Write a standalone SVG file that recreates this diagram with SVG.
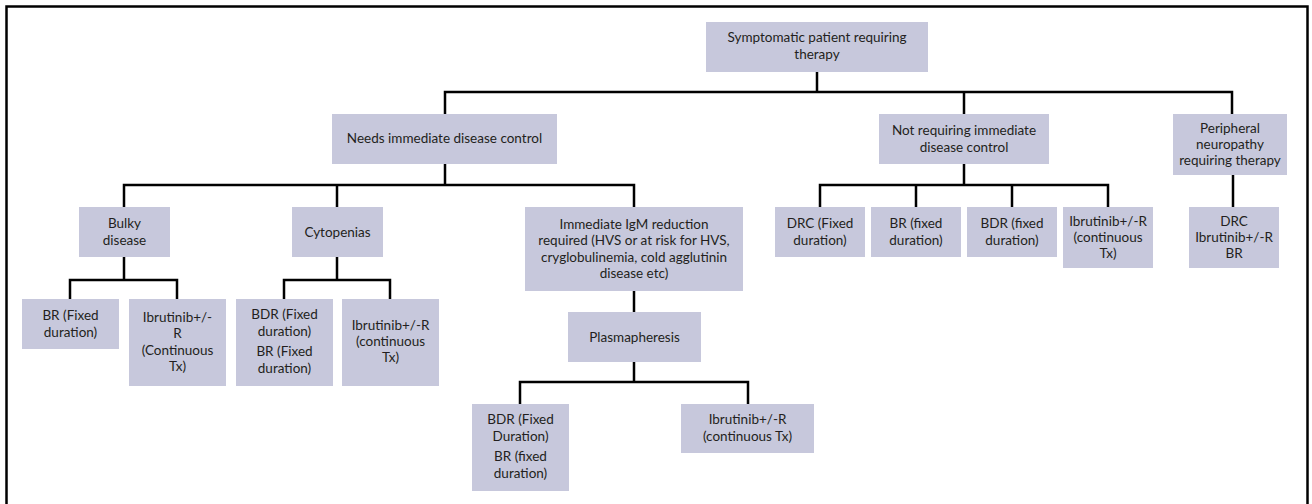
<svg xmlns="http://www.w3.org/2000/svg" width="1312" height="504" viewBox="0 0 1312 504">
<style>
.box{fill:#c7c8dc;}
.t{font-family:Lato,"Liberation Sans",sans-serif;font-size:13.5px;fill:#231f20;text-anchor:middle;}
.c{fill:none;stroke:#000;stroke-width:2.5;}
</style>
<rect x="0" y="0" width="1312" height="504" fill="#fff"/>
<rect x="6.5" y="6.5" width="1301" height="510" fill="none" stroke="#000" stroke-width="2.5"/>
<g id="connectors" class="c">
<path d="M817,72 V92 M445,114 V92 H1232 V114 M964,92 V114"/>
<path d="M445,164 V185 M124,207 V185 H634 V207 M337,185 V207"/>
<path d="M124,257 V280 M70,299 V280 H177 V299"/>
<path d="M337,257 V280 M284,299 V280 H390 V299"/>
<path d="M634,291 V312"/>
<path d="M634,362 V382 M520,404 V382 H748 V404"/>
<path d="M964,164 V185 M820,207 V185 H1108 V207 M916,185 V207 M1012,185 V207"/>
<path d="M1233,175 V207"/>
</g>
<g id="n-root"><rect class="box" x="706" y="22" width="222" height="50"/><text class="t" x="817" y="42">Symptomatic patient requiring</text><text class="t" x="817" y="58.5">therapy</text></g>
<g id="n-needs"><rect class="box" x="332" y="114" width="225" height="50"/><text class="t" x="444.5" y="143">Needs immediate disease control</text></g>
<g id="n-notreq"><rect class="box" x="879" y="114" width="170" height="50"/><text class="t" x="964" y="135.3">Not requiring immediate</text><text class="t" x="964" y="151.7">disease control</text></g>
<g id="n-periph"><rect class="box" x="1173" y="114" width="114" height="61"/><text class="t" x="1230" y="132.7">Peripheral</text><text class="t" x="1230" y="149">neuropathy</text><text class="t" x="1230" y="165.3">requiring therapy</text></g>
<g id="n-bulky"><rect class="box" x="79" y="207" width="91" height="50"/><text class="t" x="124.5" y="228.3">Bulky</text><text class="t" x="124.5" y="244.7">disease</text></g>
<g id="n-cyto"><rect class="box" x="292" y="207" width="91" height="50"/><text class="t" x="337.5" y="236.5">Cytopenias</text></g>
<g id="n-igm"><rect class="box" x="525" y="207" width="218" height="84"/><text class="t" x="634" y="229">Immediate IgM reduction</text><text class="t" x="634" y="245.3">required (HVS or at risk for HVS,</text><text class="t" x="634" y="261.7">cryglobulinemia, cold agglutinin</text><text class="t" x="634" y="278">disease etc)</text></g>
<g id="n-plasma"><rect class="box" x="568" y="312" width="133" height="50"/><text class="t" x="634.5" y="341.5">Plasmapheresis</text></g>
<g id="n-bulky-br"><rect class="box" x="22" y="299" width="97" height="50"/><text class="t" x="70.5" y="320.3">BR (Fixed</text><text class="t" x="70.5" y="336.7">duration)</text></g>
<g id="n-bulky-ibr"><rect class="box" x="129" y="299" width="97" height="87"/><text class="t" x="177.5" y="322">Ibrutinib+/-</text><text class="t" x="177.5" y="338.3">R</text><text class="t" x="177.5" y="354.8">(Continuous</text><text class="t" x="177.5" y="371">Tx)</text></g>
<g id="n-cyto-bdr"><rect class="box" x="236" y="299" width="97" height="87"/><text class="t" x="284.5" y="319.3">BDR (Fixed</text><text class="t" x="284.5" y="335.5">duration)</text><text class="t" x="284.5" y="356.3">BR (Fixed</text><text class="t" x="284.5" y="372.6">duration)</text></g>
<g id="n-cyto-ibr"><rect class="box" x="342" y="299" width="97" height="87"/><text class="t" x="390.5" y="329.5">Ibrutinib+/-R</text><text class="t" x="390.5" y="345.8">(continuous</text><text class="t" x="390.5" y="362">Tx)</text></g>
<g id="n-plasma-bdr"><rect class="box" x="472" y="404" width="97" height="87"/><text class="t" x="520.5" y="424.3">BDR (Fixed</text><text class="t" x="520.5" y="440.5">Duration)</text><text class="t" x="520.5" y="461.3">BR (fixed</text><text class="t" x="520.5" y="477.6">duration)</text></g>
<g id="n-plasma-ibr"><rect class="box" x="681" y="404" width="133" height="49"/><text class="t" x="747.5" y="424.3">Ibrutinib+/-R</text><text class="t" x="747.5" y="440.7">(continuous Tx)</text></g>
<g id="n-drc"><rect class="box" x="775" y="207" width="90" height="50"/><text class="t" x="820" y="228.3">DRC (Fixed</text><text class="t" x="820" y="244.7">duration)</text></g>
<g id="n-br"><rect class="box" x="871" y="207" width="90" height="50"/><text class="t" x="916" y="228.3">BR (fixed</text><text class="t" x="916" y="244.7">duration)</text></g>
<g id="n-bdr"><rect class="box" x="967" y="207" width="90" height="50"/><text class="t" x="1012" y="228.3">BDR (fixed</text><text class="t" x="1012" y="244.7">duration)</text></g>
<g id="n-ibr"><rect class="box" x="1063" y="207" width="90" height="61"/><text class="t" x="1108" y="225.7">Ibrutinib+/-R</text><text class="t" x="1108" y="242">(continuous</text><text class="t" x="1108" y="258.3">Tx)</text></g>
<g id="n-periph-tx"><rect class="box" x="1189" y="207" width="90" height="61"/><text class="t" x="1234" y="225.7">DRC</text><text class="t" x="1234" y="242">Ibrutinib+/-R</text><text class="t" x="1234" y="258.3">BR</text></g>
</svg>
